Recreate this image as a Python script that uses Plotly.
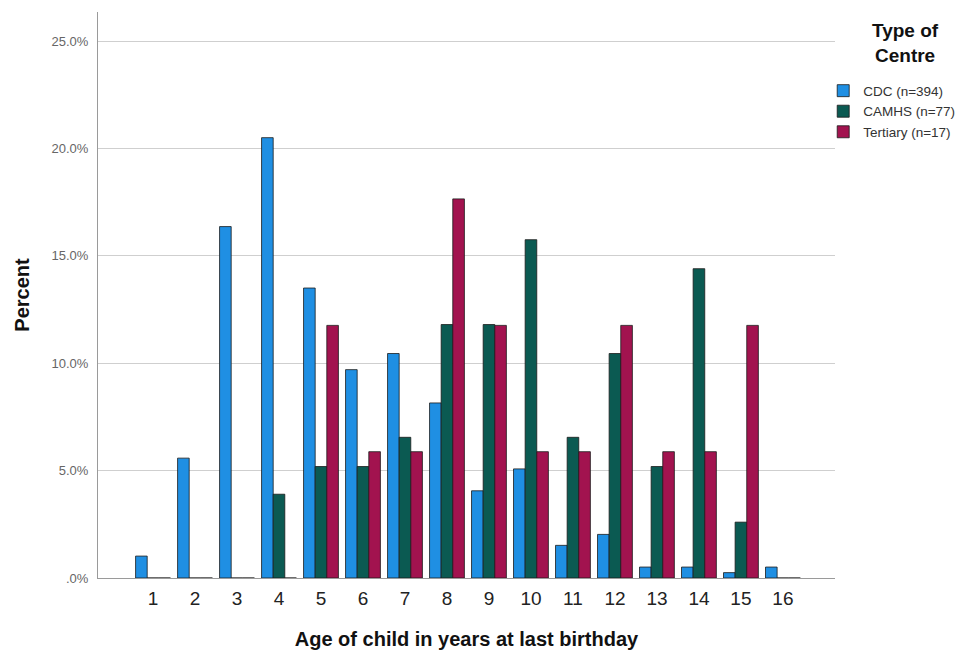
import plotly.graph_objects as go

ages = list(range(1, 17))
age_labels = [str(a) for a in ages]

cdc = [1.02, 5.58, 16.36, 20.50, 13.50, 9.70, 10.45, 8.15, 4.06, 5.08, 1.52, 2.03, 0.51, 0.51, 0.25, 0.51]
camhs = [0, 0, 0, 3.90, 5.19, 5.19, 6.55, 11.80, 11.80, 15.75, 6.55, 10.45, 5.19, 14.40, 2.60, 0]
tertiary = [0, 0, 0, 0, 11.76, 5.88, 5.88, 17.65, 11.76, 5.88, 5.88, 11.76, 5.88, 5.88, 11.76, 0]

series_names = ["CDC (n=394)", "CAMHS (n=77)", "Tertiary (n=17)"]
series_colors = ["#1f8fe3", "#0b5a52", "#a2134f"]

y_tickvals = [0, 5, 10, 15, 20, 25]
y_ticktext = [".0%", "5.0%", "10.0%", "15.0%", "20.0%", "25.0%"]

legend_title = "Type of<br>Centre"

fig = go.Figure()
for name, vals, col in zip(series_names, [cdc, camhs, tertiary], series_colors):
    fig.add_trace(go.Bar(
        x=ages, y=vals, name=name,
        marker=dict(color=col, line=dict(color="#1a1a1a", width=0.8)),
    ))

fig.add_annotation(
    xref="paper", yref="paper", x=1.095, y=0.945, xanchor="center", yanchor="middle",
    text=f"<b>{legend_title}</b>", showarrow=False, align="center",
    font=dict(size=19, color="#111"),
)

fig.update_layout(
    width=964, height=650,
    margin=dict(l=98, r=129, t=12, b=72, autoexpand=False),
    paper_bgcolor="white", plot_bgcolor="white",
    barmode="group", bargap=0.17, bargroupgap=0,
    font=dict(family="Arial, Liberation Sans, sans-serif", color="#222"),
    legend=dict(
        x=0.984, y=0.888, xanchor="left", yanchor="top",
        bgcolor="rgba(0,0,0,0)",
        font=dict(size=13.5, color="#333"),
        tracegroupgap=0, itemwidth=30,
    ),
    xaxis=dict(
        range=[-0.31, 17.24], tickvals=ages, ticktext=age_labels,
        tickfont=dict(size=19, color="#222"),
        showgrid=False, zeroline=False,
        showline=True, linecolor="#9a9a9a", linewidth=1,
        ticks="", ticklen=0, ticklabelstandoff=3,
        title=dict(text="<b>Age of child in years at last birthday</b>",
                   font=dict(size=20, color="#111"), standoff=30),
    ),
    yaxis=dict(
        range=[0, 26.35], tickvals=y_tickvals, ticktext=y_ticktext,
        tickfont=dict(size=13, color="#666"),
        showgrid=True, gridcolor="#cfcfcf", gridwidth=1,
        zeroline=False,
        showline=True, linecolor="#9a9a9a", linewidth=1,
        ticks="", ticklabelstandoff=6,
        title=dict(text="<b>Percent</b>", font=dict(size=20, color="#111"), standoff=16),
    ),
)

fig.write_html(
    "out.html",
    config={"displayModeBar": False},
    post_script="document.body.style.margin='0';document.body.style.overflow='hidden';",
)
